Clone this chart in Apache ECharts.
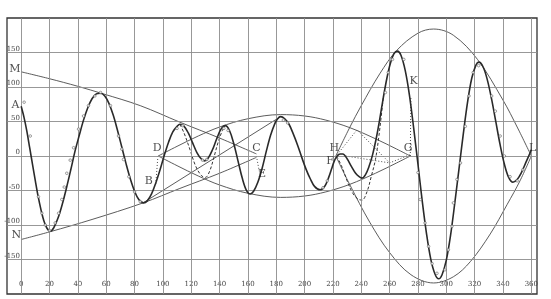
<!DOCTYPE html>
<html><head><meta charset="utf-8">
<script src="https://cdn.jsdelivr.net/npm/echarts/dist/echarts.min.js"></script>
<style>html,body{margin:0;padding:0;background:#fff}#c{width:551px;height:299px}</style>
</head><body><div id="c"></div>
<script>
const xTicks = [0,20,40,60,80,100,120,140,160,180,200,220,240,260,280,300,320,340,360];
const yTicks = [-150,-100,-50,0,50,100,150];

const mainCurve = [[0,72],[2,56],[4,36],[6,12],[8,-12],[10,-36],[12,-59],[14,-78],[16,-94],[18,-104],[20.5,-109],
[23,-104],[26,-90],[29,-70],[32,-46],[35,-20],[38,7],[41,30],[44,52],[47,70],[50,83],[53,90],[56,91],
[59,87],[62,76],[65,59],[68,37],[71,13],[74,-11],[77,-33],[80,-51],[83,-63],[86.4,-68],
[89,-65],[92,-55],[95,-39],[98,-20],[101,1],[104,20],[107,35],[110,43],[112,46],
[115,43],[118,33],[121,19],[124,5],[127,-4],[129.5,-7],
[132,-3],[135,9],[138,25],[141,39],[144,44],
[147,37],[150,18],[153,-7],[156,-32],[159,-50],[161.6,-55],
[164,-51],[167,-38],[170,-18],[173,7],[176,30],[179,47],[181,54],[183,57],
[186,54],[189,46],[192,32],[195,16],[198,-2],[201,-19],[204,-33],[207,-44],[211,-49],
[213,-47],[215,-41],[217,-31],[219,-19],[221,-7],[223,0],[225,3],[227,3],[230,-4],[233,-15],[236,-25],[238.5,-30],[240.5,-32],[243,-27],[245.5,-15],[248,2],[250.5,25],[253,53],[255.5,84],[258,112],[260.5,134],[263,148],[265.5,152],
[268,146],[271,124],[274,88],[277,40],[280,-12],[283,-65],[286,-112],[289,-149],[292,-171],[294.6,-178],
[297,-172],[300,-151],[303,-115],[306,-68],[309,-18],[312,32],[315,78],[318,113],[321,132],[323,136],
[326,129],[329,110],[332,82],[335,49],[338,16],[341,-12],[344,-31],[347,-38],
[350,-34],[353,-24],[356,-10],[359,4],[360,9]];

const observed = [[2.1,78],[6.4,29],[12.2,-59],[14.6,-83],[17,-100],[20,-108],[24,-97],[26.4,-83],[28.7,-63],[30.4,-45],[32.2,-25],[34.6,-6],[37,12],[40.5,39],[44,58],[47.5,73],[52,87],[56,92],[63,73],[68.7,29],[71,10],[72.2,-5],[76,-30],[80,-52],[84,-66],
[110,40],[114,44],[128,-6],[131,-5],[143,40],[146,37],[185,52],[188,48],[213,-46],[216,-36],
[257,92],[259,121],[262,140],[270,140],
[280,-24],[281.6,-63],[285,-97],[287.5,-131],[290,-156],[293.4,-170],[299,-165],[301.5,-136],[304,-102],[305,-68],[307.5,-34],[310,-10],
[313.4,43],[316,87],[319,121],[322.8,131],[332,87],[334.6,65],[338,29],[341,0],[345,-30],[350,-36],[354,-20]];

const lens1Upper = [[0,122],[20,112],[40,101],[58,90],[84,73],[112,49],[140,26],[166,3]];
const lens1Lower = [[0,-121],[20,-110],[50,-92],[86,-68],[112,-47],[140,-25],[166,-2]];
const lens2Upper = [[96.7,0],[110,14],[125,29],[140,42],[160,54],[183,60],[200,58],[215,52],[232,41],[250,25],[265,10],[274.6,0]];
const lens2Lower = [[96.7,0],[110,-14],[125,-29],[140,-42],[160,-54],[183,-60],[200,-58],[215,-52],[232,-41],[250,-25],[265,-10],[274.6,0]];
const bigUpper = [[222,0],[232,42],[240,73],[253,119],[265,153],[280,178],[291,184],[305,175],[322,140],[340,81],[350,42],[360,0]];
const bigLower = [[222,0],[232,-42],[246,-96],[260,-140],[275,-172],[291,-184],[305,-175],[317,-153],[331,-113],[343,-70],[352,-36],[360,0]];
const crossLine = [[86,-68],[183,57]];
const dashedA = [[112,46],[115,33],[119,10],[123,-14],[127,-28],[130,-31],[133,-22],[136,-2],[139,20],[142,37],[144,44]];
const dashedB = [[222.5,0],[226,-14],[230,-36],[234,-54],[237.5,-62],[240.5,-64],[244,-52],[247,-30],[250,-5],[252.5,30],[255.5,84]];
const dottedDB = [[96.5,0],[95,-40]];
const dottedGK = [[274.6,0],[275,86]];
const dottedCE = [[166,0],[168,-22]];
const dottedDiamond = [[223,2],[237,38],[260,-10],[274.6,2]];
const dottedInner = [[229,0],[260,-10]];

const letters = ['M','A','N','B','D','C','E','H','F','G','K','L'];
const letterPos = [[-4.5,126],[-4,73],[-3.5,-114],[90,-37],[96,11],[166,11],[170,-27],[221,12],[218,-7],[273,12],[277,109],[361,12]];

const ink = '#2a2a2a';
const thin = {color:'#4a4a4a', width:0.9};
function lineSeries(data, style, z){
  return {type:'line', data:data, symbol:'none', smooth:0.35, silent:true, z:z||3,
    lineStyle:Object.assign({}, thin, style||{})};
}

const chart = echarts.init(document.getElementById('c'), null, {renderer:'canvas'});
chart.setOption({
  animation:false,
  backgroundColor:'#ffffff',
  grid:{left:7,right:14,top:18,bottom:5,show:true,borderColor:'#333',borderWidth:1.3,backgroundColor:'transparent'},
  xAxis:{type:'value',min:-10,max:364,
    axisLine:{show:false},axisTick:{show:false},splitLine:{show:false},
    axisLabel:{customValues:xTicks,inside:true,margin:6,fontSize:7,color:'#444',fontFamily:'DejaVu Serif'}},
  yAxis:{type:'value',min:-200,max:200,
    axisLine:{show:false},axisTick:{show:false},splitLine:{show:false},
    axisLabel:{customValues:yTicks,inside:true,margin:13,align:'right',verticalAlign:'bottom',fontSize:7,color:'#444',fontFamily:'DejaVu Serif'}},
  series:[
    {type:'line',data:[],silent:true,z:1,
      markLine:{silent:true,symbol:'none',label:{show:false},animation:false,
        lineStyle:{color:'#8c8c8c',width:0.9,type:'solid'},
        data:xTicks.map(v=>({xAxis:v})).concat(yTicks.map(v=>({yAxis:v})))}},
    lineSeries(lens1Upper),
    lineSeries(lens1Lower),
    lineSeries(lens2Upper),
    lineSeries(lens2Lower),
    lineSeries(bigUpper),
    lineSeries(bigLower),
    Object.assign(lineSeries(crossLine),{smooth:false}),
    lineSeries(dashedA,{type:[3,2],color:'#333',width:1}),
    lineSeries(dashedB,{type:[3,2],color:'#333',width:1}),
    Object.assign(lineSeries(dottedDB,{type:[1,2],color:'#333'}),{smooth:false}),
    Object.assign(lineSeries(dottedGK,{type:[1,2],color:'#333'}),{smooth:false}),
    Object.assign(lineSeries(dottedCE,{type:[1,2],color:'#333'}),{smooth:false}),
    Object.assign(lineSeries(dottedDiamond,{type:[1,2],color:'#333'}),{smooth:false}),
    Object.assign(lineSeries(dottedInner,{type:[1,2],color:'#333'}),{smooth:false}),
    {type:'line',data:mainCurve,symbol:'none',smooth:0.35,silent:true,z:5,lineStyle:{color:ink,width:1.6}},
    {type:'scatter',data:observed,symbol:'circle',symbolSize:2.6,silent:true,z:6,
      itemStyle:{color:'#ffffff',borderColor:'#555',borderWidth:0.7}},
    {type:'scatter',silent:true,z:7,symbol:'circle',symbolSize:1,itemStyle:{color:'transparent'},
      data:letters.map((n,i)=>({name:n,value:letterPos[i]})),
      label:{show:true,position:'inside',formatter:p=>p.name,fontSize:11,color:'#222',fontFamily:'DejaVu Serif'}}
  ]
});
</script></body></html>
